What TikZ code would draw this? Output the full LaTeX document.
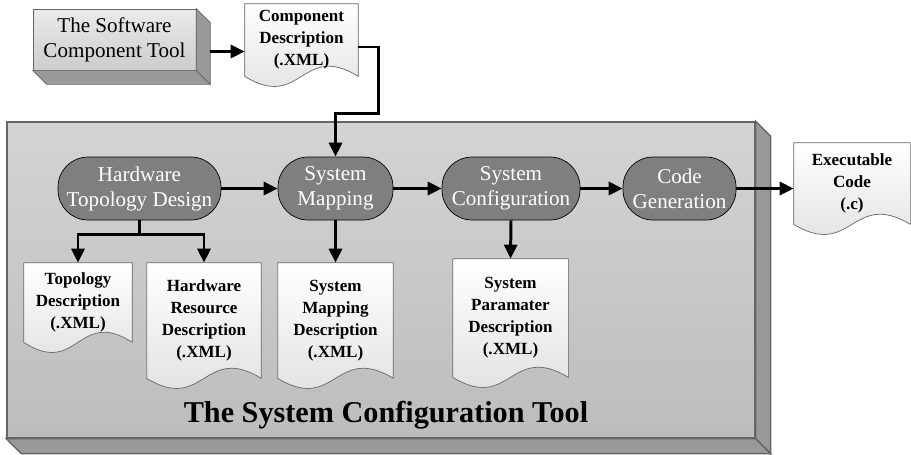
\documentclass[tikz,border=0pt]{standalone}
\usepackage{fontspec}
\setmainfont{Liberation Serif}
\usetikzlibrary{arrows.meta,calc}
\definecolor{procgray}{HTML}{7F7F7F}
\definecolor{sidegray}{HTML}{999999}
\definecolor{edgegray}{HTML}{666666}
\pgfdeclarelayer{back}
\pgfdeclarelayer{background}
\pgfsetlayers{back,background,main}

\begin{document}
\begin{tikzpicture}[x=0.02cm,y=-0.02cm]
\tikzset{
  procnode/.style={rectangle,draw,thin,fill=procgray,rounded corners=0.6cm,minimum height=1.26cm,inner sep=0pt,text=white,align=center,font=\fontsize{12}{14.2}\selectfont},
  docnode/.style={rectangle,inner sep=0pt,align=center,font=\fontsize{9.7}{12.5}\selectfont\bfseries},
  docshape/.style={draw=edgegray,thin,top color=white,bottom color=black!13},
  toolbox/.style={rectangle,draw=edgegray,thin,inner sep=0pt,align=center},
  sideface/.style={fill=sidegray,draw=edgegray,thin},
  flow/.style={-{Triangle[length=2.8mm,width=2.6mm]},line width=1.7pt}
}
\useasboundingbox (0,0) rectangle (911,454);

% the configuration tool frame
\begin{pgfonlayer}{back}
\node[toolbox,line width=0.8pt,minimum width=14.96cm,minimum height=6.32cm,top color=black!17,bottom color=black!26] (systool) at (381,280) {};
\path[sideface,line width=0.8pt] (systool.north east) -- ++(15,15) -- ($(systool.south east)+(15,15)$) -- (systool.south east) -- cycle;
\path[sideface,line width=0.8pt] (systool.south west) -- ++(15,15) -- ($(systool.south east)+(15,15)$) -- (systool.south east) -- cycle;
\end{pgfonlayer}
\node[anchor=base,font=\fontsize{17.2}{20}\selectfont\bfseries] (title) at (386,422) {The System Configuration Tool};

% software component tool
\node[toolbox,minimum width=3.26cm,minimum height=1.22cm,top color=black!8,bottom color=black!20,font=\fontsize{12}{14.2}\selectfont] (swtool) at (114.5,39.5) {The Software\\Component Tool};
\path[sideface] (swtool.north east) -- ++(14,14) -- ($(swtool.south east)+(14,14)$) -- (swtool.south east) -- cycle;
\path[sideface] (swtool.south west) -- ++(14,14) -- ($(swtool.south east)+(14,14)$) -- (swtool.south east) -- cycle;

% processing steps
\node[procnode,minimum width=3.26cm] (htd) at (139.5,188.5) {Hardware\\Topology Design};
\node[procnode,minimum width=2.30cm] (smap) at (335.5,188.5) {System\\Mapping};
\node[procnode,minimum width=2.76cm] (sconf) at (511,188.5) {System\\Configuration};
\node[procnode,minimum width=2.26cm] (cgen) at (679.5,188.5) {Code\\Generation};

% documents
\node[docnode,minimum width=2.26cm,minimum height=1.44cm] (cdesc) at (301.5,40) {Component\\Description\\(.XML)};
\node[docnode,minimum width=2.32cm,minimum height=1.62cm] (exe) at (852,183.5) {Executable\\Code\\(.c)};
\node[docnode,minimum width=2.16cm,minimum height=1.58cm] (topo) at (78,302.5) {Topology\\Description\\(.XML)};
\node[docnode,minimum width=2.28cm,minimum height=2.30cm] (hwres) at (204,320.5) {Hardware\\Resource\\Description\\(.XML)};
\node[docnode,minimum width=2.30cm,minimum height=2.30cm] (smapd) at (335.5,320.5) {System\\Mapping\\Description\\(.XML)};
\node[docnode,minimum width=2.30cm,minimum height=2.36cm] (spar) at (510.5,318) {System\\Paramater\\Description\\(.XML)};

\begin{pgfonlayer}{background}
\foreach \d in {cdesc,exe,topo,hwres,smapd,spar}{
  \path[docshape] (\d.north west) -- (\d.north east) -- (\d.south east)
    .. controls ($(\d.south)+(0,-35)$) and ($(\d.south)+(0,35)$) .. (\d.south west) -- cycle;
}
\end{pgfonlayer}

% connectors
\coordinate (swout) at ($(swtool.east)+(14,12)$);
\draw[flow] (swout) -- (swout -| cdesc.west);
\coordinate (jog) at (378,113);
\draw[flow] ($(cdesc.east)+(0,7)$) -| (jog) -| (smap.north);
\draw[flow] (htd.east) -- (smap.west);
\draw[flow] (smap.east) -- (sconf.west);
\draw[flow] (sconf.east) -- (cgen.west);
\draw[flow] (cgen.east) -- (cgen.east -| exe.west);
\coordinate (split) at ($(htd.south)+(0,14)$);
\draw[flow] (htd.south) -- (split) -| (topo.north);
\draw[flow] (split) -| (hwres.north);
\draw[flow] (smap.south) -- (smapd.north);
\draw[flow] (sconf.south) -- (spar.north);
\end{tikzpicture}
\end{document}
